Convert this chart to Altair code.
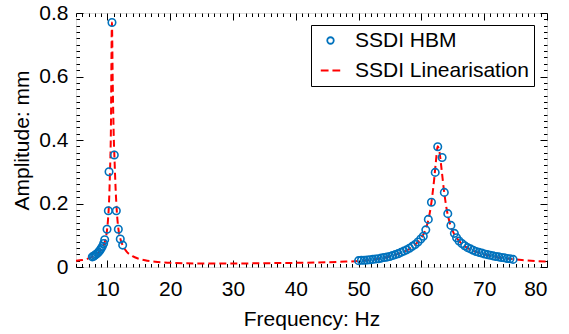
import altair as alt
import pandas as pd

# ---- data ----
hbm_freq = [7.6, 7.8, 8.0, 8.2, 8.4, 8.6, 8.8, 9.0, 9.2, 9.4, 9.57, 9.94, 10.15, 10.26, 10.73, 11.1, 11.42, 11.74, 12.05, 12.43,
            50.0, 50.45, 50.9, 51.35, 51.8, 52.25, 52.7, 53.15, 53.6, 54.05, 54.5, 54.95, 55.4, 55.85, 56.3, 56.75, 57.2, 57.65,
            58.1, 58.55, 59.0, 59.45, 59.9, 60.3, 60.7, 61.1, 61.6, 62.2, 62.6, 63.3, 63.65, 64.2, 64.7, 65.25, 65.6, 66.0,
            66.45, 66.9, 67.35, 67.8, 68.25, 68.7, 69.15, 69.6, 70.05, 70.5, 70.95, 71.4, 71.85, 72.3, 72.75, 73.2, 73.65, 74.1, 74.6]
hbm_amp = [0.032, 0.034, 0.037, 0.040, 0.043, 0.047, 0.052, 0.058, 0.065, 0.074, 0.086, 0.119, 0.177, 0.300, 0.770, 0.353, 0.177, 0.119, 0.088, 0.069,
           0.020, 0.021, 0.021, 0.022, 0.023, 0.024, 0.025, 0.026, 0.028, 0.030, 0.031, 0.033, 0.036, 0.039, 0.042, 0.046, 0.050, 0.054,
           0.059, 0.065, 0.071, 0.079, 0.088, 0.097, 0.117, 0.150, 0.204, 0.298, 0.379, 0.345, 0.235, 0.168, 0.131, 0.106, 0.092, 0.082,
           0.074, 0.067, 0.061, 0.057, 0.053, 0.049, 0.046, 0.044, 0.041, 0.039, 0.037, 0.035, 0.033, 0.032, 0.030, 0.029, 0.027, 0.026, 0.024]

lin_freq = [5, 6, 7, 7.5, 8, 8.5, 9, 9.3, 9.6, 9.9, 10.1, 10.25, 10.4, 10.55, 10.72, 10.85, 11.0, 11.15, 11.3, 11.5, 11.75,
            12.05, 12.4, 13, 14, 15, 16, 18, 20, 25, 30, 35, 40, 45, 48, 50, 52, 54, 56, 58, 59, 60, 60.5, 61, 61.5, 62,
            62.3, 62.6, 62.9, 63.2, 63.6, 64, 64.5, 65, 66, 67, 68, 70, 72, 74, 76, 78, 80]
lin_amp = [0.020, 0.022, 0.027, 0.031, 0.036, 0.043, 0.053, 0.062, 0.080, 0.110, 0.150, 0.200, 0.290, 0.420, 0.770, 0.580, 0.420,
           0.330, 0.250, 0.175, 0.120, 0.090, 0.070, 0.050, 0.034, 0.026, 0.021, 0.016, 0.013, 0.011, 0.011, 0.012, 0.013, 0.015,
           0.017, 0.019, 0.023, 0.029, 0.039, 0.056, 0.071, 0.092, 0.110, 0.140, 0.190, 0.270, 0.330, 0.380, 0.360, 0.310, 0.240,
           0.185, 0.140, 0.113, 0.082, 0.064, 0.053, 0.040, 0.031, 0.026, 0.022, 0.019, 0.017]

series_names = ["SSDI HBM", "SSDI Linearisation"]
x_major = [10, 20, 30, 40, 50, 60, 70, 80]
y_major = [0, 0.2, 0.4, 0.6, 0.8]
x_minor = [v for v in range(5, 81) if v % 10 != 0]
y_minor = [round(i * 0.02, 2) for i in range(41) if i % 10 != 0]

FONT = "Liberation Sans"
W, H = 471, 254

hbm = pd.DataFrame({"f": hbm_freq, "a": hbm_amp, "series": series_names[0]})
lin = pd.DataFrame({"f": lin_freq, "a": lin_amp, "series": series_names[1]})

sx = alt.Scale(domain=[5, 80], nice=False, zero=False)
sy = alt.Scale(domain=[0, 0.8], nice=False, zero=False)

def tick_axis(orient, offset, values, size):
    return alt.Axis(orient=orient, offset=offset, values=values, tickSize=size, labels=False,
                    domain=False, grid=False, title=None, tickColor="black", tickWidth=1)

line = alt.Chart(lin).mark_line(strokeWidth=2, interpolate="monotone").encode(
    x=alt.X("f:Q", scale=sx, axis=alt.Axis(orient="bottom", values=x_major, title="Frequency: Hz",
                                           ticks=False, tickSize=0, domain=False, grid=False,
                                           labelPadding=11, labelFontSize=21, titleFontSize=21,
                                           titleFontWeight="normal", labelFont=FONT, titleFont=FONT,
                                           labelColor="black", titleColor="black", titlePadding=9)),
    y=alt.Y("a:Q", scale=sy, axis=alt.Axis(orient="left", values=y_major, title="Amplitude: mm", format="~g",
                                           ticks=False, tickSize=0, domain=False, grid=False,
                                           labelPadding=8, labelFontSize=21, titleFontSize=21,
                                           titleFontWeight="normal", labelFont=FONT, titleFont=FONT,
                                           labelColor="black", titleColor="black", titlePadding=6)),
    color=alt.value("#FF0000"),
    strokeDash=alt.value([7, 4]),
)

legend = alt.Legend(title=None, orient="none", legendX=235, legendY=12, strokeColor="black",
                    fillColor="white", padding=5, labelFont=FONT, labelFontSize=21, labelColor="black",
                    symbolSize=42, symbolStrokeWidth=1.8, symbolOffset=4, labelOffset=14,
                    rowPadding=8, labelLimit=0, cornerRadius=0)

points = alt.Chart(hbm).mark_point(filled=False, size=56, strokeWidth=1.6, opacity=1).encode(
    x=alt.X("f:Q", scale=sx, axis=tick_axis("top", -H, x_major, 7)),
    y=alt.Y("a:Q", scale=sy, axis=tick_axis("right", -W, y_major, 7)),
    color=alt.Color("series:N", scale=alt.Scale(domain=series_names, range=["#0072BD", "#FF0000"]), legend=legend),
    shape=alt.Shape("series:N", scale=alt.Scale(domain=series_names,
                                                range=["circle", "M-3,0H-0.6M0.6,0H3"]), legend=legend),
)

def dummy(xo, yo, xv, yv, size):
    return alt.Chart(lin).mark_point(opacity=0).encode(
        x=alt.X("f:Q", scale=sx, axis=tick_axis(xo, -H, xv, size)),
        y=alt.Y("a:Q", scale=sy, axis=tick_axis(yo, -W, yv, size)),
    )

chart = alt.layer(
    line,
    points,
    dummy("top", "right", x_minor, y_minor, 3.5),
    dummy("bottom", "left", x_major, y_major, 7),
    dummy("bottom", "left", x_minor, y_minor, 3.5),
).resolve_axis(x="independent", y="independent").properties(
    width=W, height=H,
    padding={"left": 76, "top": 13, "right": 22, "bottom": 67},
    autosize=alt.AutoSizeParams(type="none"),
).configure_view(stroke="black", strokeWidth=1).configure(background="white")

chart.save("out.html", embed_options={"renderer": "svg", "actions": False})
